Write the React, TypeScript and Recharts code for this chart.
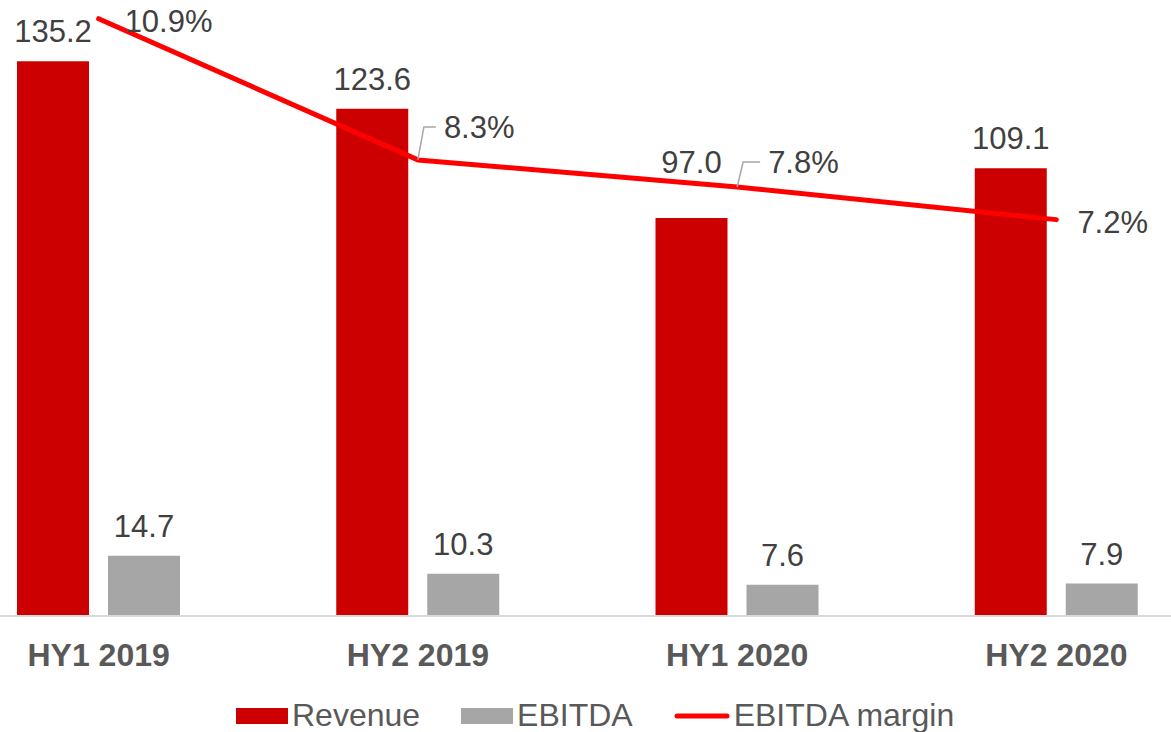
import { ComposedChart, Bar, Line, XAxis, YAxis, LabelList, Legend } from 'recharts';

const categories = ['HY1 2019', 'HY2 2019', 'HY1 2020', 'HY2 2020'];
const revenue = [135.2, 123.6, 97.0, 109.1];
const ebitda = [14.7, 10.3, 7.6, 7.9];
const ebitdaMargin = [10.9, 8.3, 7.8, 7.2];

const seriesOrder = ['Revenue', 'EBITDA', 'EBITDA margin'];

const data = categories.map((name, i) => ({
  name,
  revenue: revenue[i],
  ebitda: ebitda[i],
  margin: ebitdaMargin[i],
}));

const FONT = '"Liberation Sans", Arial, sans-serif';

// extra lift for revenue labels that would sit on the margin line
const revenueLabelLift = [0, 0, 26, 0];

// label placement for the margin line (dx, dy to baseline, leader line or not)
const marginLabelPos = [
  { dx: 26, dy: 13, leader: false },
  { dx: 26, dy: -22, leader: true },
  { dx: 31, dy: -14, leader: true },
  { dx: 21, dy: 13, leader: false },
];

const makeBarLabel = (lift: number[]) => (props: any) => {
  const { x, y, width, value, index } = props;
  return (
    <text
      x={x + width / 2}
      y={y - 19 - (lift[index] ?? 0)}
      textAnchor="middle"
      fontFamily={FONT}
      fontSize={31}
      fill="#404040"
    >
      {Number(value).toFixed(1)}
    </text>
  );
};

const RevenueLabel = makeBarLabel(revenueLabelLift);
const EbitdaLabel = makeBarLabel([0, 0, 0, 0]);

const MarginLabel = (props: any) => {
  const { x, y, value, index } = props;
  const p = marginLabelPos[index];
  const tx = x + p.dx;
  const ty = y + p.dy;
  return (
    <g>
      {p.leader && (
        <polyline
          points={`${x},${y} ${x + 6},${ty - 11} ${tx - 8},${ty - 11}`}
          fill="none"
          stroke="#a6a6a6"
          strokeWidth={1.5}
        />
      )}
      <text x={tx} y={ty} textAnchor="start" fontFamily={FONT} fontSize={31} fill="#404040">
        {Number(value).toFixed(1)}%
      </text>
    </g>
  );
};

const CategoryTick = (props: any) => {
  const { x, y, payload } = props;
  return (
    <text
      x={x}
      y={y + 50}
      textAnchor="middle"
      fontFamily={FONT}
      fontSize={32}
      fontWeight="bold"
      fill="#595959"
    >
      {payload.value}
    </text>
  );
};

const renderLegend = (props: any) => {
  const payload = props.payload ?? [];
  const items = seriesOrder
    .map((n) => payload.find((p: any) => p.value === n))
    .filter(Boolean);
  return (
    <div
      style={{
        display: 'flex',
        alignItems: 'center',
        fontFamily: FONT,
        fontSize: 32,
        color: '#595959',
        lineHeight: 'normal',
      }}
    >
      {items.map((p: any) => (
        <div key={p.value} style={{ display: 'flex', alignItems: 'center', marginRight: 41 }}>
          {p.value === 'EBITDA margin' ? (
            <svg width={56} height={8}>
              <line x1={3} y1={4} x2={53} y2={4} stroke="#ff0000" strokeWidth={5} strokeLinecap="round" />
            </svg>
          ) : (
            <div style={{ width: 52, height: 16, background: p.color }} />
          )}
          <span style={{ marginLeft: 4 }}>{p.value}</span>
        </div>
      ))}
    </div>
  );
};

export default function App() {
  return (
    <div
      style={{
        position: 'fixed',
        left: 0,
        top: 0,
        width: 1171,
        height: 732,
        overflow: 'hidden',
        background: '#ffffff',
      }}
    >
      <div style={{ position: 'absolute', left: -61, top: 0 }}>
        <ComposedChart
          width={1277}
          height={732}
          data={data}
          margin={{ top: 16, right: 0, bottom: 56, left: 0 }}
          barGap={19}
        >
          <XAxis
            dataKey="name"
            height={60}
            interval={0}
            tickLine={false}
            tickSize={0}
            tickMargin={0}
            axisLine={{ stroke: '#d9d9d9', strokeWidth: 2 }}
            tick={<CategoryTick />}
          />
          <YAxis yAxisId="left" hide width={0} domain={[0, 146.2]} />
          <YAxis yAxisId="right" orientation="right" hide width={0} domain={[-0.1, 10.95]} />
          <Bar
            yAxisId="left"
            dataKey="revenue"
            name="Revenue"
            fill="#cc0000"
            barSize={72}
            isAnimationActive={false}
          >
            <LabelList dataKey="revenue" content={<RevenueLabel />} />
          </Bar>
          <Bar
            yAxisId="left"
            dataKey="ebitda"
            name="EBITDA"
            fill="#a6a6a6"
            barSize={72}
            isAnimationActive={false}
          >
            <LabelList dataKey="ebitda" content={<EbitdaLabel />} />
          </Bar>
          <Line
            yAxisId="right"
            dataKey="margin"
            name="EBITDA margin"
            stroke="#ff0000"
            strokeWidth={5}
            strokeLinecap="round"
            strokeLinejoin="round"
            dot={false}
            activeDot={false}
            isAnimationActive={false}
          >
            <LabelList dataKey="margin" content={<MarginLabel />} />
          </Line>
          <Legend
            verticalAlign="middle"
            layout="horizontal"
            wrapperStyle={{ top: 697, left: 297, width: 820, height: 36 }}
            content={renderLegend}
          />
        </ComposedChart>
      </div>
    </div>
  );
}
